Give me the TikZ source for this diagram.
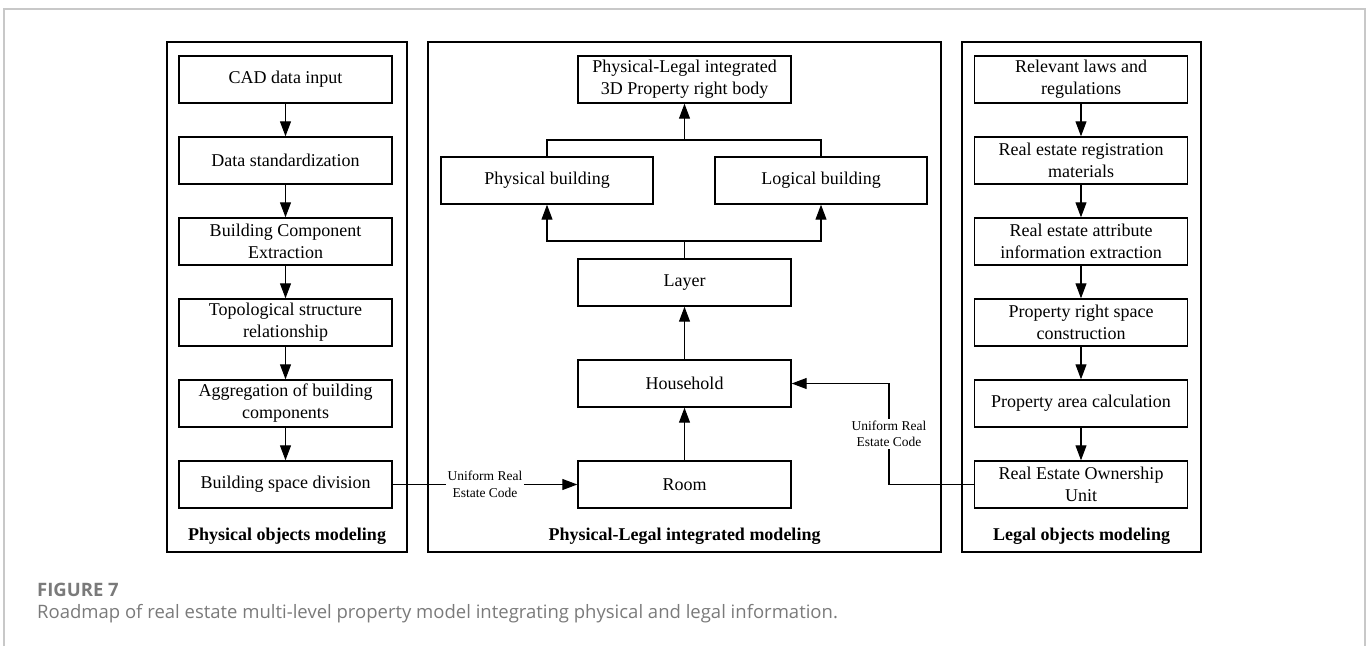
\documentclass[tikz,border=0pt]{standalone}
\usepackage{fontspec}
\setmainfont{Liberation Serif}
\newfontfamily\capfont{Open Sans}
\usetikzlibrary{arrows.meta}
\definecolor{framegray}{HTML}{C8C8C8}
\definecolor{capgray}{HTML}{7A7A7A}
\begin{document}
\begin{tikzpicture}[x=1pt,y=-1pt,
  box/.style={draw, line width=1.4pt, minimum width=213pt, minimum height=47pt, inner sep=0pt, align=center, font=\fontsize{18}{22}\selectfont},
  panel/.style={draw, line width=1.8pt, minimum height=510pt, inner sep=0pt},
  ptitle/.style={font=\fontsize{18}{22}\selectfont\bfseries, inner sep=0pt},
  arr/.style={line width=1.1pt, -{Triangle[length=15pt,width=11pt]}},
  ln/.style={line width=1.1pt},
  lbl/.style={fill=white, font=\fontsize{13.5}{16.5}\selectfont, align=center, inner sep=1.5pt},
]
\useasboundingbox (0,0) rectangle (1369,646);
% outer frame
\draw[framegray, line width=1.2pt] (4,646) -- (4,9) -- (1365,9) -- (1365,646);

% panels
\node[panel, minimum width=240pt] (pl) at (287,297) {};
\node[panel, minimum width=513pt] (pm) at (684.5,297) {};
\node[panel, minimum width=239pt] (pr) at (1081.5,297) {};
\node[ptitle] (tl) at (287,536) {Physical objects modeling};
\node[ptitle] (tm) at (684.5,536) {Physical-Legal integrated modeling};
\node[ptitle] (tr) at (1081.5,536) {Legal objects modeling};

% left column
\node[box] (l1) at (285.5,79.5) {CAD data input};
\node[box] (l2) at (285.5,160.5) {Data standardization};
\node[box] (l3) at (285.5,241.5) {Building Component\\Extraction};
\node[box] (l4) at (285.5,322.5) {Topological structure\\relationship};
\node[box] (l5) at (285.5,403.5) {Aggregation of building\\components};
\node[box] (l6) at (285.5,484.5) {Building space division};
\foreach \a/\b in {l1/l2,l2/l3,l3/l4,l4/l5,l5/l6} \draw[arr] (\a) -- (\b);

% right column
\node[box] (r1) at (1081,79.5) {Relevant laws and\\regulations};
\node[box] (r2) at (1081,160.5) {Real estate registration\\materials};
\node[box] (r3) at (1081,241.5) {Real estate attribute\\information extraction};
\node[box] (r4) at (1081,322.5) {Property right space\\construction};
\node[box] (r5) at (1081,403.5) {Property area calculation};
\node[box] (r6) at (1081,484.5) {Real Estate Ownership\\Unit};
\foreach \a/\b in {r1/r2,r2/r3,r3/r4,r4/r5,r5/r6} \draw[arr] (\a) -- (\b);

% middle column
\node[box] (m1) at (684.5,79.5) {Physical-Legal integrated\\3D Property right body};
\node[box, minimum width=212pt] (pb) at (547,180.5) {Physical building};
\node[box, minimum width=212pt] (lb) at (821,180.5) {Logical building};
\node[box] (ly) at (684.5,282.5) {Layer};
\node[box] (hh) at (684.5,383.5) {Household};
\node[box] (rm) at (684.5,484.5) {Room};

\draw[arr] (rm) -- (hh);
\draw[arr] (hh) -- (ly);
\coordinate (jb) at (684.5,241);
\coordinate (jt) at (684.5,140);
\draw[ln] (ly.north) -- (jb);
\draw[arr] (jb) -| (pb.south);
\draw[arr] (jb) -| (lb.south);
\draw[ln] (pb.north) |- (jt) -| (lb.north);
\draw[arr] (jt) -- (m1.south);

% cross connectors
\draw[arr] (l6.east) -- node[lbl] {Uniform Real\\Estate Code} (rm.west);
\coordinate (rc) at (889,484.5);
\draw[arr] (r6.west) -- (rc) |- node[lbl, pos=0.25] {Uniform Real\\Estate Code} (hh.east);

% caption
\node[anchor=west, inner sep=0pt, text=capgray, font=\capfont\fontsize{18.5}{20}\selectfont\bfseries] (fig) at (37,590) {FIGURE 7};
\node[anchor=west, inner sep=0pt, text=capgray, font=\capfont\fontsize{18.5}{20}\selectfont] (cap) at (37,614) {Roadmap of real estate multi-level property model integrating physical and legal information.};
\end{tikzpicture}
\end{document}
